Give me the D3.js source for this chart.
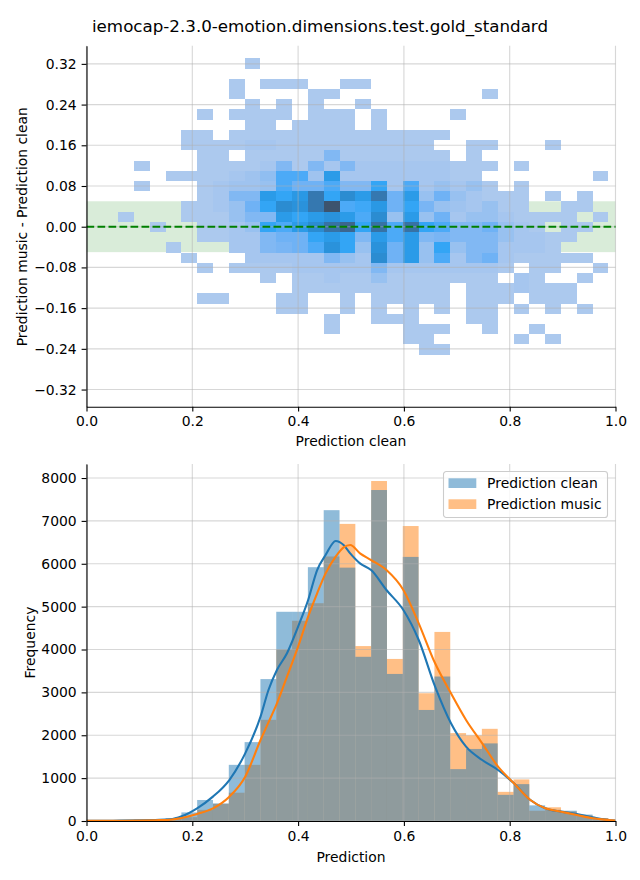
<!DOCTYPE html>
<html>
<head>
<meta charset="utf-8">
<script src="https://cdn.jsdelivr.net/npm/d3@7"></script>
<style>
  body { margin: 0; background: #fff; }
  svg text { font-family: "DejaVu Sans", sans-serif; fill: #000; }
</style>
</head>
<body>
<svg id="chart" width="640" height="880"></svg>
<script>
const title = "iemocap-2.3.0-emotion.dimensions.test.gold_standard";

// ---- top panel: 2-d histogram of (clean, music - clean) ----
const diffBinX0 = 0.0597, diffBinW = 0.0299;   // 31 columns along "Prediction clean"
const diffBinTop = 0.3308, diffBinH = 0.02008; // 29 rows, top row first
const diffCounts = [
  [0,0,0,0,0,0,0,0,1,0,0,0,0,0,0,0,0,0,0,0,0,0,0,0,0,0,0,0,0,0,0],
  [0,0,0,0,0,0,0,0,0,0,0,0,0,0,0,0,0,0,0,0,0,0,0,0,0,0,0,0,0,0,0],
  [0,0,0,0,0,0,0,1,0,1,1,1,0,0,1,1,0,0,0,0,0,0,0,0,0,0,0,0,0,0,0],
  [0,0,0,0,0,0,0,1,0,0,0,0,1,1,0,0,0,0,0,0,0,0,0,1,0,0,0,0,0,0,0],
  [0,0,0,0,0,0,0,0,1,0,1,0,1,0,0,1,0,0,0,0,0,0,0,0,0,0,0,0,0,0,0],
  [0,0,0,0,0,1,0,1,1,1,1,0,1,1,1,0,1,0,0,0,0,1,0,0,0,0,0,0,0,0,0],
  [0,0,0,0,0,0,0,0,1,1,0,1,1,1,1,0,1,0,0,0,0,0,0,0,0,0,0,0,0,0,0],
  [0,0,0,0,1,1,0,1,1,1,1,1,1,1,1,1,1,1,1,1,1,0,0,0,0,0,0,0,0,0,0],
  [0,0,0,0,1,1,1,1,2,2,1,1,1,1,1,1,1,1,1,1,0,0,1,1,0,0,0,1,0,0,0],
  [0,0,0,0,0,1,1,0,1,1,1,1,1,7,1,1,1,1,1,1,1,0,1,0,0,0,0,0,0,0,0],
  [0,1,0,0,0,1,1,1,1,2,7,1,7,2,7,2,2,2,2,2,2,1,1,1,0,1,0,0,0,0,0],
  [0,0,0,1,1,1,1,2,3,5,12,12,3,17,2,2,2,2,2,2,2,1,1,0,0,0,0,0,0,0,1],
  [0,1,0,0,0,1,2,3,3,4,12,9,9,12,7,7,14,2,12,2,4,2,4,1,0,1,0,0,0,0,0],
  [0,0,0,0,0,1,2,7,7,17,14,18,28,14,22,17,28,9,17,4,9,4,2,1,1,1,0,1,0,1,0],
  [0,0,0,0,1,1,2,4,9,14,22,20,28,40,12,13,18,9,14,8,4,3,2,4,1,1,0,0,1,1,0],
  [1,0,0,0,1,1,1,4,7,7,17,14,17,20,17,12,22,4,17,4,9,2,4,4,2,1,1,1,1,0,1],
  [0,0,1,0,0,1,1,2,4,14,12,17,22,30,34,14,30,12,30,14,12,7,7,9,4,2,1,0,1,1,0],
  [0,0,0,0,0,1,1,2,2,7,9,9,14,17,14,7,17,12,17,7,8,7,7,7,4,2,2,1,1,0,0],
  [0,0,0,1,0,0,0,2,2,7,8,9,12,20,14,4,20,9,17,4,14,4,7,7,2,2,2,1,0,0,0],
  [0,0,0,0,1,0,0,0,2,2,2,2,2,7,4,2,22,9,17,4,12,2,7,9,2,1,1,1,1,1,0],
  [0,0,0,0,0,1,0,1,1,1,1,2,2,2,2,2,7,2,2,2,2,2,2,2,1,0,1,1,0,0,1],
  [0,0,0,0,0,0,0,0,0,1,0,1,1,2,1,1,4,1,1,1,1,1,1,1,0,2,1,0,0,1,0],
  [0,0,0,0,0,0,0,0,0,0,0,1,1,1,1,1,1,1,1,1,1,0,1,1,1,2,1,1,1,0,0],
  [0,0,0,0,0,1,1,0,0,0,1,1,0,0,1,0,1,1,1,1,1,0,1,1,1,0,1,1,1,0,0],
  [0,0,0,0,0,0,0,0,0,0,1,1,0,0,1,0,1,0,1,0,1,0,1,1,0,1,0,1,0,1,0],
  [0,0,0,0,0,0,0,0,0,0,0,0,0,1,0,0,1,1,1,0,0,0,1,1,0,0,0,0,0,0,0],
  [0,0,0,0,0,0,0,0,0,0,0,0,0,1,0,0,0,0,1,1,1,0,0,1,0,0,1,0,0,0,0],
  [0,0,0,0,0,0,0,0,0,0,0,0,0,0,0,0,0,0,1,1,0,0,0,0,0,1,0,1,0,0,0],
  [0,0,0,0,0,0,0,0,0,0,0,0,0,0,0,0,0,0,0,1,1,0,0,0,0,0,0,0,0,0,0]
];
const toleranceBand = [-0.05, 0.05];
const topXTicks = [0, 0.2, 0.4, 0.6, 0.8, 1.0];
const topYTicks = [-0.32, -0.24, -0.16, -0.08, 0, 0.08, 0.16, 0.24, 0.32];

// ---- bottom panel: histograms + kde, same bins as the columns above ----
const seriesNames = ["Prediction clean", "Prediction music"];
const histClean = [20, 30, 40, 60, 200, 490, 410, 1310, 1840, 3310, 4880, 4880, 5920, 7250, 5910, 3830,
                   7720, 3430, 6160, 2590, 3370, 1210, 1680, 1810, 610, 860, 365, 260, 240, 150, 60];
const histMusic = [15, 25, 30, 50, 90, 260, 400, 660, 1310, 2360, 4000, 4670, 5080, 6170, 6930, 4080,
                   7930, 3780, 6880, 2980, 4410, 2050, 2000, 2150, 680, 970, 240, 320, 220, 130, 70];
const kdeX = [0, 0.05, 0.1, 0.13, 0.158, 0.18, 0.209, 0.239, 0.27, 0.3, 0.329, 0.344, 0.36, 0.379, 0.4,
              0.419, 0.436, 0.452, 0.471, 0.486, 0.4985, 0.517, 0.538, 0.567, 0.599, 0.628, 0.659, 0.689,
              0.7175, 0.748, 0.778, 0.808, 0.839, 0.867, 0.897, 0.927, 0.957, 0.987, 1.0];
const kdeClean = [3, 6, 15, 25, 39, 110, 296, 568, 956, 1578, 2433, 3055, 3522, 3911, 4533,
                  5155, 5854, 6204, 6531, 6437, 6243, 6010, 5854, 5388, 4921, 4222, 3133, 2278,
                  1733, 1423, 1190, 879, 490, 296, 218, 163, 86, 23, 12];
const kdeMusic = [2, 4, 10, 18, 30, 70, 163, 296, 568, 1034, 1889, 2300, 2744, 3366, 4066,
                  4766, 5310, 5776, 6166, 6383, 6437, 6243, 6087, 5854, 5388, 4611, 3678, 2978,
                  2356, 1812, 1267, 879, 490, 296, 218, 140, 63, 23, 10];
const botXTicks = [0, 0.2, 0.4, 0.6, 0.8, 1.0];
const botYTicks = [0, 1000, 2000, 3000, 4000, 5000, 6000, 7000, 8000];

const cleanColor = "#1f77b4", musicColor = "#ff7f0e";

// ---- husl helpers, to build seaborn's colormap from the blue seed ----
const hM = [[3.2406, -1.5372, -0.4986], [-0.9689, 1.8758, 0.0415], [0.0557, -0.2040, 1.0570]];
const hMinv = [[0.4124, 0.3576, 0.1805], [0.2126, 0.7152, 0.0722], [0.0193, 0.1192, 0.9505]];
const refU = 0.19784, refV = 0.46834, kappa = 903.3, eps = 0.008856;

function maxChroma(L, H) {
  const hr = H * Math.PI / 180, sinH = Math.sin(hr), cosH = Math.cos(hr);
  const sub1 = Math.pow(L + 16, 3) / 1560896;
  const sub2 = sub1 > eps ? sub1 : L / kappa;
  let result = Infinity;
  hM.forEach(([m1, m2, m3]) => {
    const num = (0.99915 * m1 + 1.05122 * m2 + 1.14460 * m3) * sub2;
    const den = ((0.86330 * m3 - 0.17266 * m2) * sinH + (0.12949 * m3 - 0.38848 * m1) * cosH) * sub2;
    [0, 1].forEach(t => {
      const C = L * (num - 1.05122 * t) / (den + 0.17266 * sinH * t);
      if (C > 0 && C < result) result = C;
    });
  });
  return result;
}

function rgbToHusl(r, g, b) {
  const lin = [r, g, b].map(c => c > 0.04045 ? Math.pow((c + 0.055) / 1.055, 2.4) : c / 12.92);
  const [X, Y, Z] = hMinv.map(row => row[0] * lin[0] + row[1] * lin[1] + row[2] * lin[2]);
  const varU = 4 * X / (X + 15 * Y + 3 * Z), varV = 9 * Y / (X + 15 * Y + 3 * Z);
  const L = Y > eps ? 116 * Math.cbrt(Y) - 16 : Y * kappa;
  const U = 13 * L * (varU - refU), V = 13 * L * (varV - refV);
  const C = Math.sqrt(U * U + V * V);
  let H = Math.atan2(V, U) * 180 / Math.PI;
  if (H < 0) H += 360;
  return { h: H, s: C / maxChroma(L, H) * 100, l: L };
}

function huslToRgb(H, S, L) {
  const C = maxChroma(L, H) / 100 * S;
  const hr = H * Math.PI / 180;
  const U = Math.cos(hr) * C, V = Math.sin(hr) * C;
  const Y = L > 8 ? Math.pow((L + 16) / 116, 3) : L / kappa;
  const varU = U / (13 * L) + refU, varV = V / (13 * L) + refV;
  const X = 0 - (9 * Y * varU) / ((varU - 4) * varV - varU * varV);
  const Z = (9 * Y - 15 * varV * Y - varV * X) / (3 * varV);
  return hM.map(row => {
    const c = row[0] * X + row[1] * Y + row[2] * Z;
    const v = c <= 0.0031308 ? 12.92 * c : 1.055 * Math.pow(c, 1 / 2.4) - 0.055;
    return Math.round(Math.max(0, Math.min(1, v)) * 255);
  });
}

const seed = rgbToHusl(31 / 255, 119 / 255, 180 / 255);
const cmap = d3.range(256).map(i => {
  const xx = -1 + 2 * i / 293;
  const rgb = huslToRgb(seed.h, seed.s * Math.cos(xx), 35 + 45 * i / 255);
  return d3.rgb(rgb[0], rgb[1], rgb[2]).formatHex();
}).reverse();

const svg = d3.select("#chart");

svg.append("text")
  .attr("x", 320).attr("y", 32)
  .attr("text-anchor", "middle")
  .style("font-size", "16.7px")
  .text(title);

function styleAxis(g) {
  g.selectAll("text").style("font-size", "13.9px").style("font-family", "DejaVu Sans, sans-serif");
  g.selectAll("line").attr("stroke", "#000").attr("stroke-width", 1.1);
  g.select(".domain").attr("stroke", "#000").attr("stroke-width", 1.1);
}

function drawGrid(g, x, y, xt, yt) {
  const grid = g.append("g").attr("stroke", "#b0b0b0").attr("stroke-opacity", 0.5).attr("stroke-width", 1.1);
  grid.selectAll(".gx").data(xt).enter().append("line")
    .attr("x1", d => x(d)).attr("x2", d => x(d))
    .attr("y1", y.range()[0]).attr("y2", y.range()[1]);
  grid.selectAll(".gy").data(yt).enter().append("line")
    .attr("x1", x.range()[0]).attr("x2", x.range()[1])
    .attr("y1", d => y(d)).attr("y2", d => y(d));
}

// ================= top panel =================
const xTop = d3.scaleLinear().domain([0, 1]).range([86.5, 615.5]);
const yTop = d3.scaleLinear().domain([-0.3537, 0.3557]).range([406.7, 45.7]);
const topPanel = svg.append("g");

topPanel.append("rect")
  .attr("x", xTop(0)).attr("width", xTop(1) - xTop(0))
  .attr("y", yTop(toleranceBand[1])).attr("height", yTop(toleranceBand[0]) - yTop(toleranceBand[1]))
  .attr("fill", "green").attr("fill-opacity", 0.15);

const cells = [];
diffCounts.forEach((row, j) => row.forEach((c, k) => { if (c > 0) cells.push({ j, k, c }); }));
const cMin = d3.min(cells, d => d.c), cMax = d3.max(cells, d => d.c);
const colorOf = c => cmap[Math.min(255, Math.floor((c - cMin) / (cMax - cMin) * 256))];

topPanel.append("g").selectAll("rect")
  .data(cells)
  .enter()
  .append("rect")
  .attr("x", d => xTop(diffBinX0 + d.k * diffBinW))
  .attr("width", d => xTop(diffBinX0 + (d.k + 1) * diffBinW) - xTop(diffBinX0 + d.k * diffBinW))
  .attr("y", d => yTop(diffBinTop - d.j * diffBinH))
  .attr("height", d => yTop(diffBinTop - (d.j + 1) * diffBinH) - yTop(diffBinTop - d.j * diffBinH))
  .attr("fill", d => colorOf(d.c))
  .attr("shape-rendering", "crispEdges");

drawGrid(topPanel, xTop, yTop, topXTicks, topYTicks);

topPanel.append("line")
  .attr("x1", xTop(0)).attr("x2", xTop(1))
  .attr("y1", yTop(0)).attr("y2", yTop(0))
  .attr("stroke", "green").attr("stroke-width", 2.1)
  .attr("stroke-dasharray", "7.7,3.3");

topPanel.append("g")
  .attr("transform", `translate(0,${yTop.range()[0]})`)
  .call(d3.axisBottom(xTop).tickValues(topXTicks).tickFormat(d3.format(".1f")).tickSize(4.9).tickPadding(4.9).tickSizeOuter(0))
  .call(styleAxis);
topPanel.append("g")
  .attr("transform", `translate(${xTop.range()[0]},0)`)
  .call(d3.axisLeft(yTop).tickValues(topYTicks).tickFormat(d3.format(".2f")).tickSize(4.9).tickPadding(4.9).tickSizeOuter(0))
  .call(styleAxis);

topPanel.append("text")
  .attr("x", (xTop.range()[0] + xTop.range()[1]) / 2).attr("y", 446)
  .attr("text-anchor", "middle").style("font-size", "13.9px")
  .text("Prediction clean");
topPanel.append("text")
  .attr("transform", `translate(26.5,${yTop(0)}) rotate(-90)`)
  .attr("text-anchor", "middle").style("font-size", "13.9px")
  .text("Prediction music - Prediction clean");

// ================= bottom panel =================
const xBot = d3.scaleLinear().domain([0, 1]).range([86.5, 615.5]);
const yBot = d3.scaleLinear().domain([0, 8327]).range([821, 464]);
const botPanel = svg.append("g");

svg.append("clipPath").attr("id", "botClip")
  .append("rect").attr("x", 86.5).attr("y", 464).attr("width", 529).attr("height", 357);

function drawBars(values, color) {
  botPanel.append("g").selectAll("rect")
    .data(values)
    .enter()
    .append("rect")
    .attr("x", (d, k) => xBot(diffBinX0 + k * diffBinW))
    .attr("width", (d, k) => xBot(diffBinX0 + (k + 1) * diffBinW) - xBot(diffBinX0 + k * diffBinW))
    .attr("y", d => yBot(d))
    .attr("height", d => yBot(0) - yBot(d))
    .attr("fill", color).attr("fill-opacity", 0.5);
}
drawBars(histMusic, musicColor);
drawBars(histClean, cleanColor);

drawGrid(botPanel, xBot, yBot, botXTicks, botYTicks);

const kdeLine = vals => d3.line()
  .x((d, i) => xBot(kdeX[i]))
  .y(d => yBot(d))
  .curve(d3.curveMonotoneX)(vals);

botPanel.append("path").attr("d", kdeLine(kdeClean))
  .attr("fill", "none").attr("stroke", cleanColor).attr("stroke-width", 2.1)
  .attr("clip-path", "url(#botClip)");
botPanel.append("path").attr("d", kdeLine(kdeMusic))
  .attr("fill", "none").attr("stroke", musicColor).attr("stroke-width", 2.1)
  .attr("clip-path", "url(#botClip)");

botPanel.append("g")
  .attr("transform", `translate(0,${yBot.range()[0]})`)
  .call(d3.axisBottom(xBot).tickValues(botXTicks).tickFormat(d3.format(".1f")).tickSize(4.9).tickPadding(4.9).tickSizeOuter(0))
  .call(styleAxis);
botPanel.append("g")
  .attr("transform", `translate(${xBot.range()[0]},0)`)
  .call(d3.axisLeft(yBot).tickValues(botYTicks).tickFormat(d3.format("d")).tickSize(4.9).tickPadding(4.9).tickSizeOuter(0))
  .call(styleAxis);

botPanel.append("text")
  .attr("x", (xBot.range()[0] + xBot.range()[1]) / 2).attr("y", 862)
  .attr("text-anchor", "middle").style("font-size", "13.9px")
  .text("Prediction");
botPanel.append("text")
  .attr("transform", `translate(35,${(yBot.range()[0] + yBot.range()[1]) / 2}) rotate(-90)`)
  .attr("text-anchor", "middle").style("font-size", "13.9px")
  .text("Frequency");

// legend
const legend = botPanel.append("g").attr("transform", "translate(443.5,471.5)");
legend.append("rect")
  .attr("width", 164).attr("height", 46).attr("rx", 2.8)
  .attr("fill", "#fff").attr("fill-opacity", 0.8)
  .attr("stroke", "#cccccc").attr("stroke-width", 1.1);
[cleanColor, musicColor].forEach((color, i) => {
  legend.append("rect")
    .attr("x", 5).attr("y", 6.8 + i * 21).attr("width", 27.8).attr("height", 9.7)
    .attr("fill", color).attr("fill-opacity", 0.5);
  legend.append("text")
    .attr("x", 43.6).attr("y", 16.5 + i * 21)
    .style("font-size", "13.9px")
    .text(seriesNames[i]);
});
</script>
</body>
</html>
